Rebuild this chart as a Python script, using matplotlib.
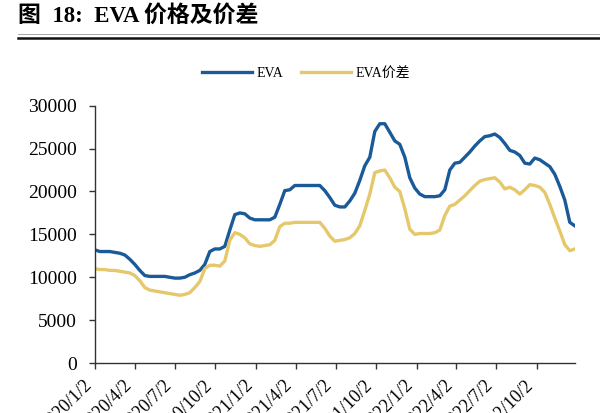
import matplotlib
matplotlib.use("Agg")
import matplotlib.pyplot as plt
import matplotlib.dates as mdates
import pandas as pd

# EVA price and spread (yuan/ton)
start_date = "2020-01-02"
end_date = "2022-12-27"

eva = [13200, 13000, 13000, 13000, 12900, 12800, 12600, 12100, 11500, 10800,
       10200, 10100, 10100, 10100, 10100, 10000, 9900, 9900, 10000, 10300,
       10500, 10800, 11500, 13000, 13300, 13300, 13600, 15500, 17300, 17500,
       17400, 16900, 16700, 16700, 16700, 16700, 17000, 18500, 20100, 20200,
       20700, 20700, 20700, 20700, 20700, 20700, 20100, 19300, 18400, 18200,
       18200, 18900, 19800, 21300, 23000, 24000, 27000, 27900, 27900, 26900,
       25900, 25500, 24000, 21600, 20400, 19700, 19400, 19400, 19400, 19500,
       20200, 22500, 23300, 23400, 24000, 24600, 25300, 25900, 26400, 26500,
       26700, 26300, 25600, 24800, 24600, 24200, 23300, 23200, 23900, 23700,
       23300, 22900, 22000, 20600, 19000, 16400, 16000]

eva_spread = [11000, 10900, 10900, 10800, 10800, 10700, 10600, 10500, 10200, 9600,
              8800, 8500, 8400, 8300, 8200, 8100, 8000, 7900, 8000, 8200,
              8800, 9500, 11000, 11400, 11400, 11300, 11900, 14300, 15200, 15000,
              14600, 13900, 13700, 13600, 13700, 13800, 14300, 15900, 16300, 16300,
              16400, 16400, 16400, 16400, 16400, 16400, 15700, 14800, 14200, 14300,
              14400, 14600, 15100, 16000, 17800, 19700, 22200, 22400, 22500, 21600,
              20500, 20000, 18000, 15600, 15000, 15100, 15100, 15100, 15200, 15500,
              17200, 18300, 18500, 19000, 19500, 20100, 20700, 21200, 21400, 21500,
              21600, 21100, 20300, 20500, 20200, 19700, 20200, 20800, 20700, 20500,
              19900, 18500, 16900, 15400, 13800, 13100, 13300]

tick_dates = ["2020-01-02", "2020-04-02", "2020-07-02", "2020-10-02",
              "2021-01-02", "2021-04-02", "2021-07-02", "2021-10-02",
              "2022-01-02", "2022-04-02", "2022-07-02", "2022-10-02"]

dates = pd.date_range(start_date, end_date, periods=len(eva))

serif_cjk = ["Liberation Serif", "Noto Sans CJK SC"]

fig = plt.figure(figsize=(6.0, 4.13), dpi=100)
ax = fig.add_axes([0.158, 0.121, 0.8, 0.623])

ax.plot(dates, eva, color="#1B5A98", lw=2.4, label="EVA")
ax.plot(dates, eva_spread, color="#E6C86C", lw=2.4, label="EVA价差")

ax.set_ylim(0, 30000)
ax.set_yticks(range(0, 30001, 5000))
ax.set_xlim(pd.Timestamp(start_date), pd.Timestamp(end_date))
ax.set_xticks(pd.to_datetime(tick_dates))
ax.xaxis.set_major_formatter(
    plt.FuncFormatter(lambda v, p: "{0.year}/{0.month}/{0.day}".format(mdates.num2date(v))))

for s in ["top", "right"]:
    ax.spines[s].set_visible(False)
for s in ["left", "bottom"]:
    ax.spines[s].set_color("#333333")
    ax.spines[s].set_linewidth(1.0)
ax.tick_params(axis="both", direction="out", length=4, width=1, color="#333333")
ax.tick_params(axis="y", pad=9)
ax.tick_params(axis="x", pad=6)
for lab in ax.get_yticklabels():
    lab.set_family(serif_cjk)
    lab.set_fontsize(14)
for lab in ax.get_xticklabels():
    lab.set_family(serif_cjk)
    lab.set_fontsize(13)
    lab.set_rotation(45)
    lab.set_ha("right")

leg = ax.legend(loc="center", bbox_to_anchor=(0.51, 0.823), bbox_transform=fig.transFigure,
                ncol=2, frameon=False, handlelength=3.6, handletextpad=0.3,
                columnspacing=1.3, prop={"family": serif_cjk, "size": 10})

# title with rule
fig.text(0.03, 0.962, "图  18:  EVA 价格及价差", family=serif_cjk, fontsize=16.5,
         fontweight="bold", va="center", ha="left")
fig.add_artist(plt.Line2D([0.03, 1.0], [0.917, 0.917], color="#999999", lw=0.6))
fig.add_artist(plt.Line2D([0.03, 1.0], [0.909, 0.909], color="#111111", lw=1.8))

fig.savefig("out.png", dpi=100)
